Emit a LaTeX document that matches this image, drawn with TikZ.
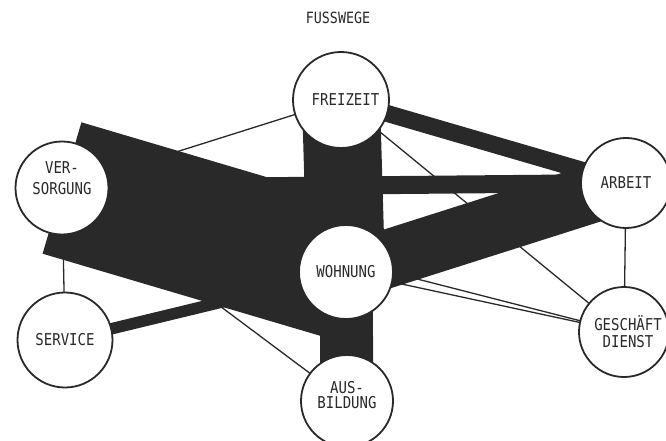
\documentclass[tikz,border=0pt]{standalone}
\usepackage{fontspec}
\newfontfamily\stencilfont[FakeStretch=0.86]{DejaVu Sans Mono}
\usetikzlibrary{backgrounds}
\newlength{\du}
\setlength{\du}{1pt}
\definecolor{dialinecolor}{rgb}{0.160000, 0.160000, 0.160000}
\tikzset{
  ort/.style={circle, draw=dialinecolor, fill=white, line width=1.8\du,
    minimum size=93\du, inner sep=0pt, align=center, text=dialinecolor,
    font=\stencilfont\fontsize{16.3}{17}\selectfont},
  strom/.style={draw=dialinecolor, line cap=butt},
  weg/.style={draw=dialinecolor, line width=1.3\du},
}

\begin{document}
\begin{tikzpicture}
\pgftransformxscale{1.000000}
\pgftransformyscale{-1.000000}
\useasboundingbox (0\du,0\du) rectangle (666\du,441\du);
% setfont left to latex
\node[text=dialinecolor, font=\stencilfont\fontsize{15.5}{17}\selectfont] (titel) at (338\du,18\du){FUSSWEGE};
\node[ort, minimum size=96\du] (frei) at (341\du,100\du){\hspace*{9\du}FREIZEIT};
\node[ort] (vers) at (62\du,188\du){VER-\\[4\du]SORGUNG\hspace*{10\du}\\[2\du]};
\node[ort, minimum size=90\du] (arb) at (626\du,183\du){ARBEIT};
\node[ort, minimum size=94\du] (wohn) at (346\du,272\du){WOHNUNG};
\node[ort, minimum size=95\du] (serv) at (65\du,340\du){SERVICE};
\node[ort, minimum size=90\du] (gesch) at (624\du,332\du){\hspace*{8\du}GESCHÄFT\\\hspace*{8\du}DIENST};
\node[ort, minimum size=92\du] (ausb) at (347\du,401\du){AUS-\\[-2\du]BILDUNG\\[-4\du]};
\begin{scope}[on background layer]
% breite Stroeme
\draw[strom, line width=137\du] (vers.center)--(wohn.center);
\draw[strom, line width=78\du] (frei.center)--(wohn.center);
\draw[strom, line width=53\du] (wohn.center)--(ausb.center);
\draw[strom, line width=58\du] (wohn.center)--(arb.center);
\draw[strom, line width=18\du] (vers.center)--(arb.center);
\draw[strom, line width=17\du] (frei.center)--(arb.center);
\draw[strom, line width=11.5\du] (serv.center)--(wohn.center);
% duenne Wege
\draw[weg] (frei.center)--(vers.center);
\draw[weg] (frei.center)--(gesch.center);
\draw[weg] (vers.center)--(serv.center);
\draw[weg] (vers.center)--(ausb.center);
\draw[weg] (vers.center)--(gesch.center);
\draw[weg] (wohn.center)--(gesch.center);
\draw[weg] (arb.center)--(gesch.center);
\end{scope}
\end{tikzpicture}
\end{document}
